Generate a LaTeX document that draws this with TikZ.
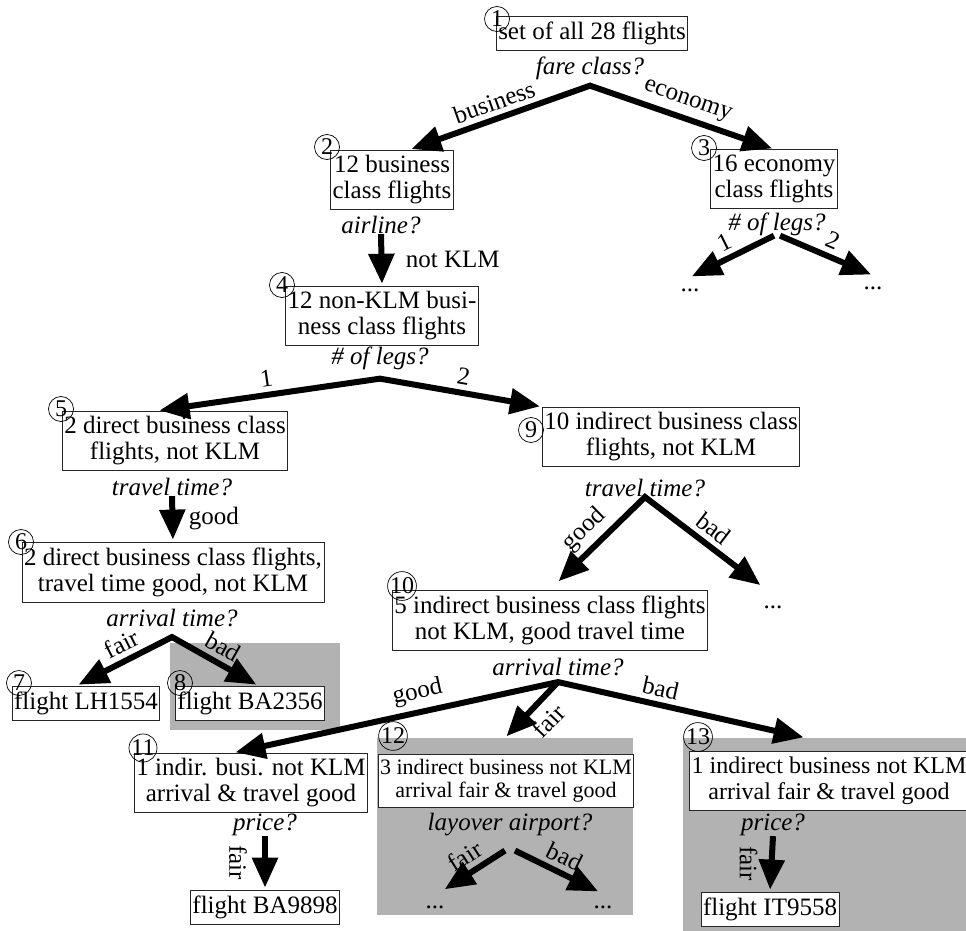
\documentclass[tikz,border=0pt]{standalone}
\usepackage{fontspec}
\setmainfont{Liberation Serif}
\usetikzlibrary{arrows.meta,positioning}

\begin{document}
\begin{tikzpicture}
    [x=1pt, y=-1pt,
    font=\fontsize{25}{26}\selectfont,
    >={Triangle[length=30pt,width=25pt]},
    box/.style={draw=black!85, line width=0.8pt, fill=white, align=center, inner xsep=2pt, inner ysep=5.5pt},
    query/.style={font=\fontsize{25}{26}\selectfont\itshape, inner sep=0pt},
    num/.style={circle, draw, line width=0.7pt, inner sep=0pt, minimum size=25pt, font=\fontsize{24}{24}\selectfont},
    shade/.style={fill=black!30, inner sep=0pt},
    dots/.style={inner sep=0pt},
    lab/.style={inner sep=5pt},
    single/.style={->, line width=6pt, shorten >=2pt},
    branch/.style={<->, line width=6pt, line join=miter, shorten <=2pt, shorten >=2pt}]
        \useasboundingbox (0,0) rectangle (966,931);

        % grey areas
        \node[shade, minimum width=170pt, minimum height=87pt] (g8) at (255,686.5) {};
        \node[shade, minimum width=256pt, minimum height=177pt] (g12) at (505,826.5) {};
        \node[shade, minimum width=307pt, minimum height=202pt] (g13) at (836.5,839) {};

        % sets of flights
        \node[box] (s1) at (592,33) {set of all 28 flights};
        \node[box] (s2) at (392,180) {12 business\\class flights};
        \node[box] (s3) at (774,179) {16 economy\\class flights};
        \node[box] (s4) at (382,316) {12 non-KLM busi-\\ness class flights};
        \node[box] (s5) at (175,441) {2 direct business class\\flights, not KLM};
        \node[box] (s9) at (671,437) {10 indirect business class\\flights, not KLM};
        \node[box] (s6) at (173,572) {2 direct business class flights,\\travel time good, not KLM};
        \node[box] (s7) at (86,703) {flight LH1554};
        \node[box] (s8) at (250,703) {flight BA2356};
        \node[box] (s10) at (550,620) {5 indirect business class flights\\not KLM, good travel time};
        \node[box] (s11) at (251,783) {1 indir. busi. not KLM\\arrival \& travel good};
        \node[box, font=\fontsize{22}{23}\selectfont, inner ysep=5pt] (s12) at (506,781) {3 indirect business not KLM\\arrival fair \& travel good};
        \node[box, font=\fontsize{24}{26}\selectfont] (s13) at (829,781) {1 indirect business not KLM\\arrival fair \& travel good};
        \node[box] (leaf11) at (265,907) {flight BA9898};
        \node[box] (leaf13) at (770,909) {flight IT9558};

        % questions
        \node[query] (q1) at (590,68) {fare class?};
        \node[query] (q2) at (381,225) {airline?};
        \node[query] (q3) at (777,224) {\# of legs?};
        \node[query] (q4) at (380,358) {\# of legs?};
        \node[query] (q5) at (172,487) {travel time?};
        \node[query] (q9) at (645,488) {travel time?};
        \node[query] (q6) at (172,618) {arrival time?};
        \node[query] (q10) at (558,667) {arrival time?};
        \node[query] (q11) at (265,825) {price?};
        \node[query] (q12) at (510,825) {layover airport?};
        \node[query] (q13) at (773,825) {price?};

        \coordinate[below=6pt of q1] (k1);
        \coordinate[below=9pt of q4] (k4);
        \coordinate[below=10pt of q6] (k6);
        \coordinate[below=6pt of q10] (k10);
        \coordinate[below=14pt of q12] (k12);

        % open ends
        \node[dots] (d3a) at (690,290) {...};
        \node[dots] (d3b) at (873,288) {...};
        \node[dots] (d9) at (773,607) {...};
        \node[dots] (d12a) at (435,907) {...};
        \node[dots] (d12b) at (603,907) {...};

        % numbers
        \node[num] (c1) at (497,19) {1};
        \node[num] (c2) at (327,147) {2};
        \node[num] (c3) at (704,148) {3};
        \node[num] (c4) at (282,285) {4};
        \node[num] (c5) at (61,409) {5};
        \node[num] (c6) at (21,542) {6};
        \node[num] (c7) at (19,683) {7};
        \node[num] (c8) at (180,683) {8};
        \node[num] (c9) at (531,430) {9};
        \node[num] (c10) at (402,586) {10};
        \node[num] (c11) at (143,748) {11};
        \node[num] (c12) at (393,736) {12};
        \node[num] (c13) at (698,737) {13};

        \draw[branch] (s2.60) -- node[lab, sloped, above] {business} (k1) -- node[lab, sloped, above] {economy} (s3.north);
        \draw[single] (q2.south) -- node[right=18pt] {not KLM} (s4.north);
        \draw[single] ([xshift=-3pt]q3.south) -- node[lab, sloped, above] {1} ([yshift=11pt]d3a.north);
        \draw[single] ([xshift=3pt]q3.south) -- node[lab, sloped, above] {2} ([yshift=11pt]d3b.north);
        \draw[branch] (s5.120) -- node[lab, sloped, above] {1} (k4) -- node[lab, sloped, above] {2} (s9.north west);
        \draw[single] (q5.south) -- node[right=10pt] {good} (s6.north);
        \draw[branch] (s7.118) -- node[lab, sloped, above, pos=0.55] {fair} (k6) -- node[lab, sloped, above] {bad} (s8.65);
        \draw[branch, shorten <=12pt] (s10.north) -- node[lab, sloped, above] {good} (q9.south) -- node[lab, sloped, above] {bad} ([shift={(-11pt,19pt)}]d9.north);
        \draw[branch] (s11.120) -- node[lab, sloped, above, pos=0.58] {good} (k10) -- node[lab, sloped, above, pos=0.4] {bad} (g13.107);
        \draw[single] (k10) -- node[sloped, below, inner sep=8pt, pos=0.45] {fair} (g12.north);
        \draw[single] (q11.south) -- node[rotate=-90, anchor=north, inner ysep=15pt] {fair} (leaf11.north);
        \draw[single] ([xshift=-5pt]k12) -- node[lab, sloped, above] {fair} ([shift={(8pt,15pt)}]d12a.north);
        \draw[single] ([xshift=5pt]k12) -- node[lab, sloped, above] {bad} ([shift={(-3pt,13pt)}]d12b.north);
        \draw[single] (q13.south) -- node[rotate=-90, anchor=north, inner ysep=11pt] {fair} (leaf13.north);
   \end{tikzpicture}
\end{document}
